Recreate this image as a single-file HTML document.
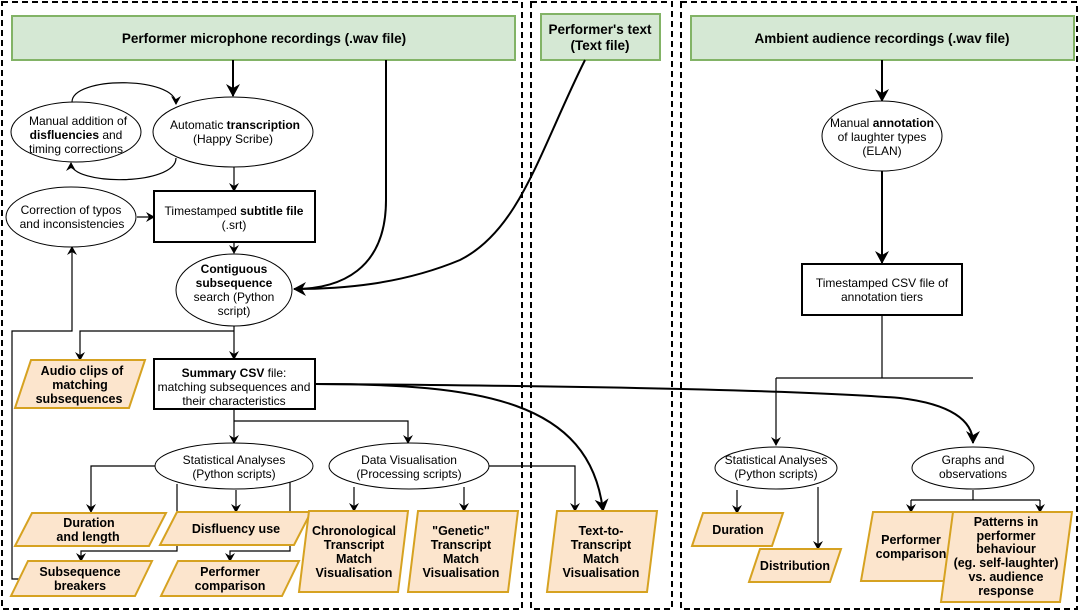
<!DOCTYPE html>
<html><head><meta charset="utf-8"><style>
html,body{margin:0;padding:0;background:#fff;}
svg{display:block;font-family:"Liberation Sans",Arial,sans-serif;}
text{font-size:12px;fill:#000;}
.b{font-weight:bold;}
.h{font-size:13.5px;font-weight:bold;}
.p{fill:#fce5cd;stroke:#d6a221;stroke-width:2;}
.pt{font-weight:bold;font-size:12.5px;}
</style></head><body>
<svg width="1080" height="612" viewBox="0 0 1080 612" xmlns="http://www.w3.org/2000/svg">
<defs>
<marker id="a" markerWidth="10" markerHeight="10" refX="8" refY="5" orient="auto" markerUnits="userSpaceOnUse"><path d="M0,0 L9,5 L0,10 L3,5 z" fill="#000"/></marker>
<marker id="A" markerWidth="14" markerHeight="14" refX="12" refY="7" orient="auto" markerUnits="userSpaceOnUse"><path d="M0,0 L13,7 L0,14 L4,7 z" fill="#000"/></marker>
</defs>
<g fill="none" stroke="#000" stroke-width="2" stroke-dasharray="6,4">
<rect x="2" y="2" width="520" height="607"/>
<rect x="531" y="2" width="141" height="607"/>
<rect x="681" y="2" width="396" height="607"/>
</g>
<g fill="#d5e8d4" stroke="#82b366" stroke-width="2">
<rect x="12" y="16" width="503" height="44"/>
<rect x="541" y="14" width="119" height="46"/>
<rect x="691" y="16" width="383" height="44"/>
</g>
<text class="h" x="264" y="43" text-anchor="middle">Performer microphone recordings (.wav file)</text>
<text class="h" x="600" y="34" text-anchor="middle">Performer's text</text>
<text class="h" x="600" y="50" text-anchor="middle">(Text file)</text>
<text class="h" x="882" y="43" text-anchor="middle">Ambient audience recordings (.wav file)</text>

<g fill="none" stroke="#000" stroke-width="1.2">
<!-- left panel connectors -->
<path d="M233,60 V96" stroke-width="2" marker-end="url(#A)"/>
<path d="M72,102 C72,76 176,76 176,104" marker-end="url(#a)"/>
<path d="M176,158 C176,186 71,186 71,163" marker-end="url(#a)"/>
<path d="M234,167 V191" marker-end="url(#a)"/>
<path d="M137,217 H154" marker-end="url(#a)"/>
<path d="M234,242 V253" marker-end="url(#a)"/>
<path d="M386,60 V200 C386,270 340,289 294,289" stroke-width="2" marker-end="url(#A)"/>
<path d="M585,60 C540,150 520,230 460,260 C400,285 340,289 294,289" stroke-width="2"/>
<path d="M234,326 V359" marker-end="url(#a)"/>
<path d="M234,331 H80 V360" marker-end="url(#a)"/>
<path d="M24,579 H12 V331 H72 V247" marker-end="url(#a)"/>
<path d="M234,409 V443" marker-end="url(#a)"/>
<path d="M234,421 H408 V443" marker-end="url(#a)"/>
<path d="M155,466 H91 V512" marker-end="url(#a)"/>
<path d="M236,490 V512" marker-end="url(#a)"/>
<path d="M177,484 V551 H81 V561" marker-end="url(#a)"/>
<path d="M290,480 V551 H230 V561" marker-end="url(#a)"/>
<path d="M354,487 V511" marker-end="url(#a)"/>
<path d="M464,487 V511" marker-end="url(#a)"/>
<path d="M489,466 H575 V511" marker-end="url(#a)"/>
<!-- summary curves -->
<path d="M315,384 C480,384 590,400 603,511" stroke-width="2" marker-end="url(#A)"/>
<path d="M315,384 C600,386 800,390 900,398 C950,404 973,420 973,443" stroke-width="2" marker-end="url(#A)"/>
<!-- right panel -->
<path d="M882,60 V101" stroke-width="2" marker-end="url(#A)"/>
<path d="M882,171 V263" stroke-width="2" marker-end="url(#A)"/>
<path d="M882,315 V378"/>
<path d="M776,378 V445" marker-end="url(#a)"/>
<path d="M776,378 H973"/>
<path d="M737,490 V513" marker-end="url(#a)"/>
<path d="M818,487 V549" marker-end="url(#a)"/>
<path d="M973,490 V500 M911,500 H1040 M911,500 V512 M1040,500 V512"/>
<path d="M911,505 V512" marker-end="url(#a)"/>
<path d="M1040,505 V512" marker-end="url(#a)"/>
</g>

<g fill="#fff" stroke="#000" stroke-width="1">
<ellipse cx="76" cy="132" rx="65" ry="30"/>
<ellipse cx="233" cy="132" rx="80" ry="35"/>
<ellipse cx="71" cy="217" rx="65" ry="30"/>
<ellipse cx="234" cy="290" rx="58" ry="36"/>
<ellipse cx="234" cy="466" rx="79" ry="23"/>
<ellipse cx="409" cy="466" rx="80" ry="23"/>
<ellipse cx="882" cy="136" rx="60" ry="35"/>
<ellipse cx="776" cy="468" rx="61" ry="21"/>
<ellipse cx="973" cy="468" rx="61" ry="21"/>
</g>
<g fill="#fff" stroke="#000" stroke-width="2">
<rect x="154" y="191" width="161" height="51"/>
<rect x="154" y="359" width="161" height="50"/>
<rect x="802" y="264" width="160" height="51"/>
</g>

<g>
<polygon class="p" points="31,360 145,360 129,408 15,408"/>
<polygon class="p" points="32,513 166,513 149,546 15,546"/>
<polygon class="p" points="177,512 311,512 294,545 160,545"/>
<polygon class="p" points="28,561 152,561 135,596 11,596"/>
<polygon class="p" points="178,561 299,561 282,596 161,596"/>
<polygon class="p" points="309,511 408,511 398,592 299,592"/>
<polygon class="p" points="418,511 518,511 508,592 408,592"/>
<polygon class="p" points="557,511 657,511 647,592 547,592"/>
<polygon class="p" points="703,513 783,513 772,546 692,546"/>
<polygon class="p" points="760,549 841,549 830,582 749,582"/>
<polygon class="p" points="873,512 963,512 951,581 861,581"/>
<polygon class="p" points="953,512 1072,512 1060,602 941,602"/>
</g>

<g text-anchor="middle">
<text x="78" y="125">Manual addition of</text>
<text x="76" y="139"><tspan class="b">disfluencies</tspan> and</text>
<text x="76" y="153">timing corrections</text>
<text x="235" y="129">Automatic <tspan class="b">transcription</tspan></text>
<text x="233" y="143">(Happy Scribe)</text>
<text x="71" y="214">Correction of typos</text>
<text x="72" y="228">and inconsistencies</text>
<text x="234" y="215">Timestamped <tspan class="b">subtitle file</tspan></text>
<text x="234" y="229">(.srt)</text>
<text x="234" y="273" class="b">Contiguous</text>
<text x="234" y="287" class="b">subsequence</text>
<text x="234" y="301">search (Python</text>
<text x="234" y="315">script)</text>
<text x="234" y="377"><tspan class="b">Summary CSV</tspan> file:</text>
<text x="234" y="391">matching subsequences and</text>
<text x="234" y="405">their characteristics</text>
<text x="82" y="375" class="pt">Audio clips of</text>
<text x="80" y="389" class="pt">matching</text>
<text x="79" y="403" class="pt">subsequences</text>
<text x="234" y="464">Statistical Analyses</text>
<text x="234" y="478">(Python scripts)</text>
<text x="409" y="464">Data Visualisation</text>
<text x="409" y="478">(Processing scripts)</text>
<text x="89" y="527" class="pt">Duration</text>
<text x="88" y="541" class="pt">and length</text>
<text x="236" y="533" class="pt">Disfluency use</text>
<text x="80" y="576" class="pt">Subsequence</text>
<text x="80" y="590" class="pt">breakers</text>
<text x="230" y="576" class="pt">Performer</text>
<text x="230" y="590" class="pt">comparison</text>
<text x="354" y="535" class="pt">Chronological</text>
<text x="354" y="549" class="pt">Transcript</text>
<text x="354" y="563" class="pt">Match</text>
<text x="354" y="577" class="pt">Visualisation</text>
<text x="461" y="535" class="pt">"Genetic"</text>
<text x="461" y="549" class="pt">Transcript</text>
<text x="461" y="563" class="pt">Match</text>
<text x="461" y="577" class="pt">Visualisation</text>
<text x="601" y="535" class="pt">Text-to-</text>
<text x="601" y="549" class="pt">Transcript</text>
<text x="601" y="563" class="pt">Match</text>
<text x="601" y="577" class="pt">Visualisation</text>
<text x="882" y="127">Manual <tspan class="b">annotation</tspan></text>
<text x="882" y="141">of laughter types</text>
<text x="882" y="155">(ELAN)</text>
<text x="882" y="287">Timestamped CSV file of</text>
<text x="882" y="301">annotation tiers</text>
<text x="776" y="464">Statistical Analyses</text>
<text x="776" y="478">(Python scripts)</text>
<text x="973" y="464">Graphs and</text>
<text x="973" y="478">observations</text>
<text x="738" y="534" class="pt">Duration</text>
<text x="795" y="570" class="pt">Distribution</text>
<text x="911" y="544" class="pt">Performer</text>
<text x="911" y="558" class="pt">comparison</text>
<text x="1006" y="526" class="pt">Patterns in</text>
<text x="1006" y="540" class="pt">performer</text>
<text x="1006" y="553" class="pt">behaviour</text>
<text x="1006" y="567" class="pt">(eg. self-laughter)</text>
<text x="1006" y="581" class="pt">vs. audience</text>
<text x="1006" y="595" class="pt">response</text>
</g>
</svg>
</body></html>
